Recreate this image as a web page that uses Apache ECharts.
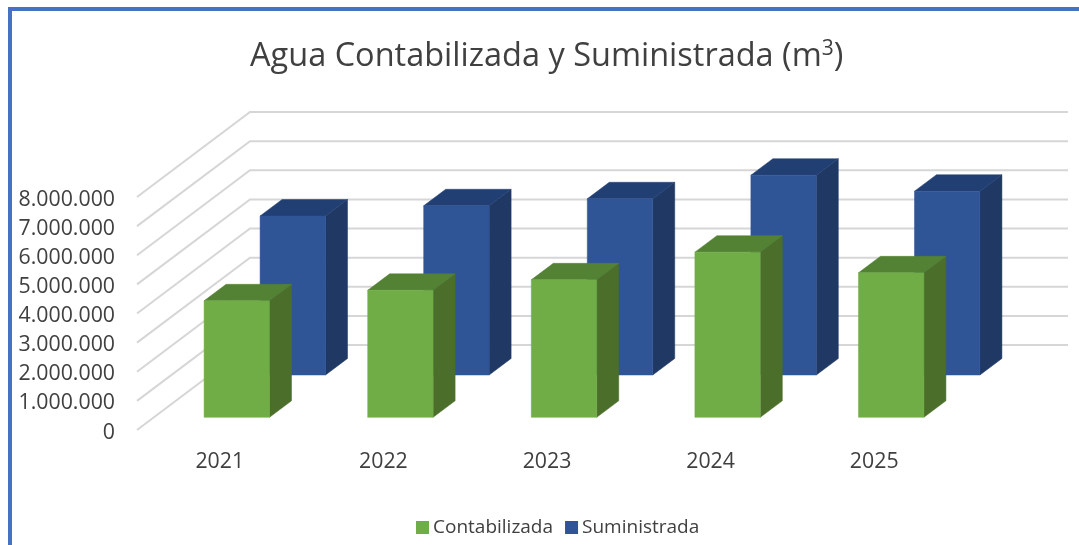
<!DOCTYPE html>
<html><head><meta charset="utf-8">
<style>html,body{margin:0;padding:0;background:#fff}#c{width:1079px;height:545px}</style>
<script src="https://cdn.jsdelivr.net/npm/echarts@6/dist/echarts.min.js"></script>
</head><body><div id="c"></div>
<script>
const categories = ['2021','2022','2023','2024','2025'];
const contabilizada = [4000000,4360000,4720000,5670000,4960000];
const suministrada = [5460000,5810000,6050000,6860000,6310000];
const ticks = [0,1000000,2000000,3000000,4000000,5000000,6000000,7000000,8000000];

const WALL_DX = 113, WALL_DY = -85, DEPTH_DX = 22, DEPTH_DY = -16.5, BAR_RATIO = 0.4;
const fmt = v => String(v).replace(/\B(?=(\d{3})+(?!\d))/g,'.');

function bar3d(offX, offY, front, top, side){
  return function(params, api){
    const i = api.value(0), p0 = api.coord([i,0]), p1 = api.coord([i,api.value(1)]);
    const w = api.size([1,0])[0]*BAR_RATIO;
    const l = p0[0]+offX-w/2, r = l+w, b = p0[1]+offY, t = p1[1]+offY;
    const poly = (pts,fill)=>({type:'polygon',shape:{points:pts},style:{fill,stroke:fill,lineWidth:0.5}});
    return {type:'group',children:[
      poly([[r,b],[r+DEPTH_DX,b+DEPTH_DY],[r+DEPTH_DX,t+DEPTH_DY],[r,t]],side),
      poly([[l,t],[r,t],[r+DEPTH_DX,t+DEPTH_DY],[l+DEPTH_DX,t+DEPTH_DY]],top),
      poly([[l,b],[r,b],[r,t],[l,t]],front)
    ]};
  };
}
function walls(params, api){
  const y = api.coord([0,api.value(0)])[1], cs = params.coordSys;
  return {type:'polyline',shape:{points:[[cs.x,y],[cs.x+WALL_DX,y+WALL_DY],[cs.x+cs.width+WALL_DX,y+WALL_DY]]},
    style:{fill:null,stroke:'#d6d6d6',lineWidth:2},silent:true};
}
const chart = echarts.init(document.getElementById('c'),null,{renderer:'canvas'});
chart.setOption({
  animation:false,
  backgroundColor:'#fff',
  textStyle:{fontFamily:'"Open Sans"'},
  title:{left:245,top:34,text:'Agua Contabilizada y Suministrada (m{s|3})',
    textStyle:{fontFamily:'"Open Sans"',fontSize:32.5,fontWeight:'normal',color:'#404040',
      rich:{s:{fontSize:21,fontFamily:'"Open Sans"',color:'#404040',padding:[0,0,15,0]}}}},
  legend:{left:411,top:513,itemWidth:13,itemHeight:13,itemGap:12,icon:'rect',
    data:['Contabilizada','Suministrada'],
    textStyle:{fontFamily:'"Open Sans"',fontSize:19,color:'#404040',padding:[0,0,0,-1]}},
  grid:{left:137,right:124,top:197,bottom:115},
  xAxis:{type:'category',data:categories,axisLine:{show:false},axisTick:{show:false},
    axisLabel:{margin:21,fontSize:21.3,color:'#404040',fontFamily:'"Open Sans"',padding:[0,0,0,2]}},
  yAxis:{type:'value',min:0,max:8000000,interval:1000000,axisLine:{show:false},axisTick:{show:false},splitLine:{show:false},
    axisLabel:{margin:22,fontSize:21.3,color:'#404040',fontFamily:'"Open Sans"',verticalAlign:'top',lineHeight:5,formatter:fmt}},
  graphic:[
    {type:'rect',silent:true,shape:{x:8,y:7,width:4,height:538},style:{fill:'#4472C4'}},
    {type:'rect',silent:true,shape:{x:8,y:7,width:1071,height:4},style:{fill:'#4472C4'}}
  ],
  series:[
    {type:'custom',name:'grid',silent:true,z:1,data:ticks.map(t=>[t]),encode:{y:0},renderItem:walls},
    {type:'custom',name:'Suministrada',z:2,itemStyle:{color:'#2F5597'},
      data:suministrada.map((v,i)=>[i,v]),encode:{x:0,y:1},
      renderItem:bar3d(74,-55,'#2F5597','#223F73','#1F3864')},
    {type:'custom',name:'Contabilizada',z:3,itemStyle:{color:'#70AD47'},
      data:contabilizada.map((v,i)=>[i,v]),encode:{x:0,y:1},
      renderItem:bar3d(18,-12.7,'#70AD47','#548235','#4B6E2A')}
  ]
});
</script></body></html>
